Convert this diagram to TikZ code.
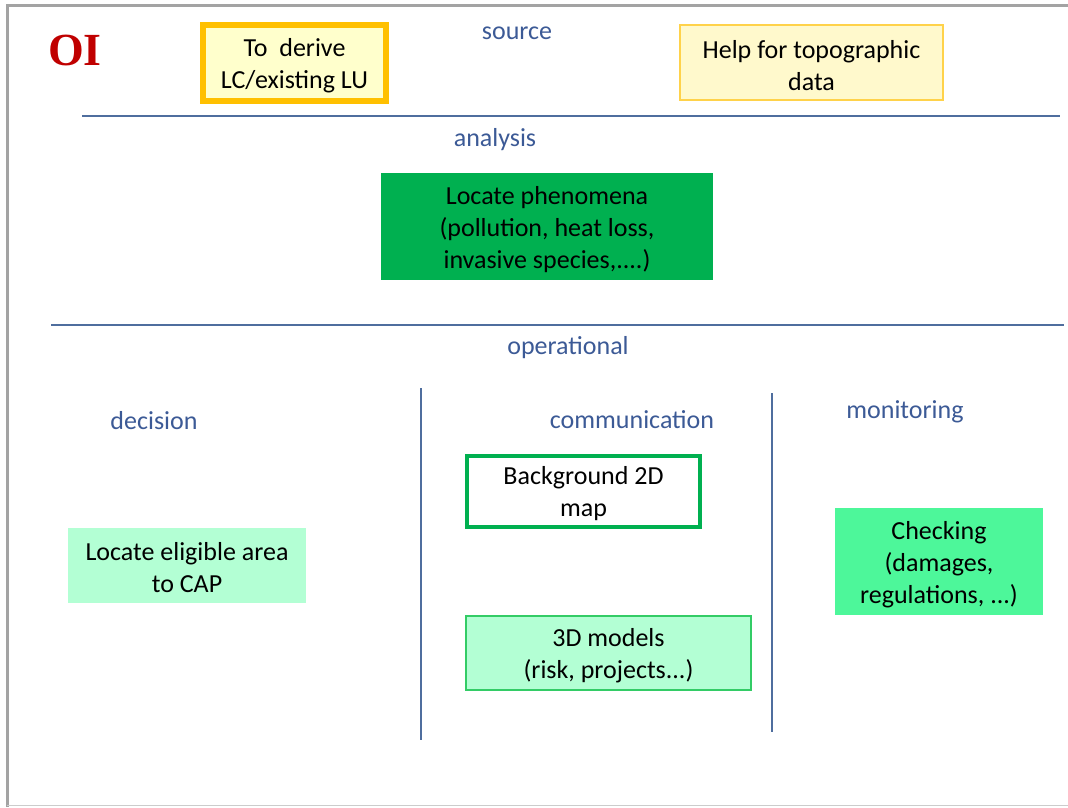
\documentclass[tikz,border=0pt]{standalone}
\usepackage{fontspec}
\setmainfont{Carlito}
\newfontfamily\oifont{Liberation Serif}
\definecolor{lblblue}{HTML}{3C5A96}
\definecolor{rulecol}{HTML}{4F6E9E}
\definecolor{orangeb}{HTML}{FFC000}
\definecolor{paleyel}{HTML}{FFFFCC}
\definecolor{paleyel2}{HTML}{FFF9CC}
\definecolor{yelb}{HTML}{FFD24A}
\definecolor{dgreen}{HTML}{00B050}
\definecolor{mint}{HTML}{B3FFD4}
\definecolor{mintb}{HTML}{33CC66}
\definecolor{midgreen}{HTML}{4DF79A}
\definecolor{oired}{HTML}{C00000}
\tikzset{
  box/.style={inner sep=0pt},
  txt/.style={inner sep=0pt, align=center, font=\fontsize{26}{32}\selectfont, text=black},
  lbl/.style={inner sep=0pt, font=\fontsize{26}{32}\selectfont, text=lblblue},
  rulel/.style={draw=rulecol, line width=2pt},
}
\begin{document}
\begin{tikzpicture}[x=1pt,y=-1pt]
\useasboundingbox (0,0) rectangle (1068,807);
\fill[white] (0,0) rectangle (1068,807);
% frame
\draw[draw=black!36, line width=3pt] (7,807) -- (7,5) -- (1068,5);
\draw[draw=black!20, line width=1.5pt] (7,805.5) -- (1068,805.5);
% OI
\node[inner sep=0pt, text=oired, font=\oifont\bfseries\fontsize{46}{50}\selectfont] (oi) at (75,50) {OI};
% source
\node[lbl] (src) at (517,33) {source};
\node[box, draw=orangeb, line width=6pt, fill=paleyel, minimum width=183pt, minimum height=76pt] (derive) at (294.5,63) {};
\node[txt] (derive-t) at ([yshift=-3pt]derive.center) {To~ derive\\LC/existing LU};
\node[box, draw=yelb, line width=1.2pt, fill=paleyel2, minimum width=263pt, minimum height=75pt] (topo) at (811.5,62.5) {};
\node[txt] (topo-t) at ([yshift=-3pt]topo.center) {Help for topographic\\data};
\coordinate (r1a) at (82,116);
\coordinate (r1b) at (1060,116);
\draw[rulel] (r1a) -- (r1b);
% analysis
\node[lbl] (ana) at (495,140) {analysis};
\node[box, fill=dgreen, minimum width=332pt, minimum height=107pt] (pheno) at (547,226) {};
\node[txt] (pheno-t) at ([yshift=-4pt]pheno.center) {Locate phenomena\\(pollution, heat loss,\\invasive species,....)};
\coordinate (r2a) at (51,325);
\coordinate (r2b) at (1064,325);
\draw[rulel] (r2a) -- (r2b);
% operational
\node[lbl] (op) at (568,348) {operational};
\node[lbl] (dec) at (154,421) {decision};
\node[lbl] (com) at (632,420) {communication};
\node[lbl] (mon) at (905,412) {monitoring};
\coordinate (v1a) at (421,388);
\coordinate (v1b) at (421,740);
\coordinate (v2a) at (772,393);
\coordinate (v2b) at (772,732);
\draw[rulel] (v1a) -- (v1b);
\draw[rulel] (v2a) -- (v2b);
\node[box, draw=dgreen, line width=4pt, fill=white, minimum width=233pt, minimum height=71pt] (bg) at (583.5,491.5) {};
\node[txt] (bg-t) at ([yshift=-2pt]bg.center) {Background 2D\\map};
\node[box, fill=mint, minimum width=238pt, minimum height=75pt] (cap) at (187,565.5) {};
\node[txt] (cap-t) at ([yshift=-2.5pt]cap.center) {Locate eligible area\\to CAP};
\node[box, draw=mintb, line width=1.2pt, fill=mint, minimum width=285pt, minimum height=74pt] (models) at (608.5,653) {};
\node[txt] (models-t) at ([yshift=-3pt]models.center) {3D models\\(risk, projects...)};
\node[box, fill=midgreen, minimum width=208pt, minimum height=107pt] (check) at (939,561.5) {};
\node[txt] (check-t) at ([yshift=-3pt]check.center) {Checking\\(damages,\\regulations, ...)};
\end{tikzpicture}
\end{document}
